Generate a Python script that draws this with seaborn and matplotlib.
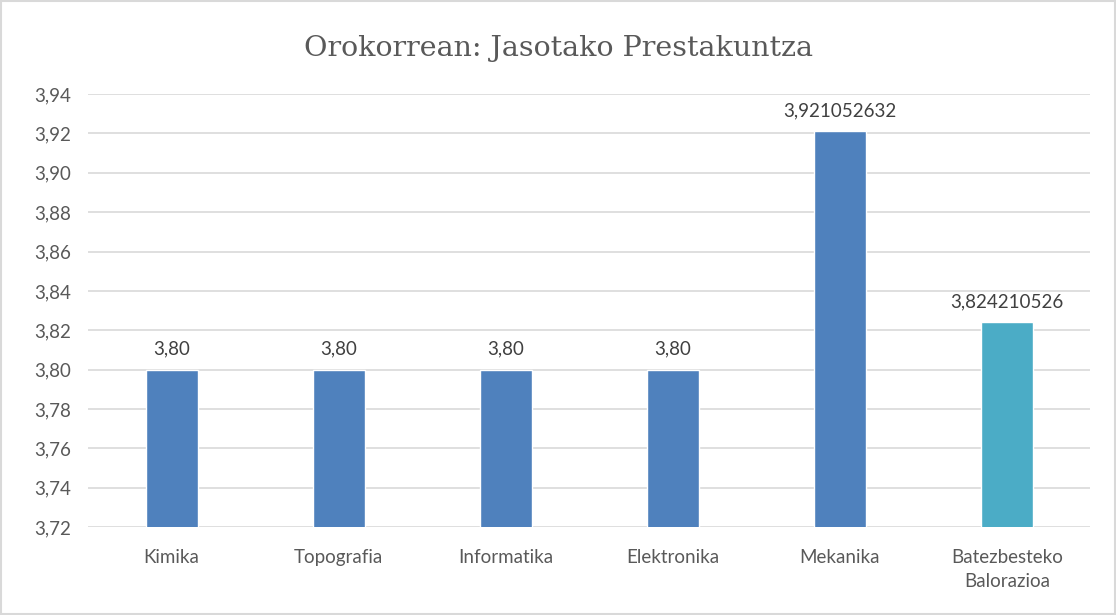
import matplotlib
matplotlib.use('Agg')
import matplotlib.pyplot as plt
import seaborn as sns
import pandas as pd

categories = ['Kimika', 'Topografia', 'Informatika', 'Elektronika', 'Mekanika',
              'Batezbesteko\nBalorazioa']
values = [3.80, 3.80, 3.80, 3.80, 3.921052632, 3.824210526]
labels = ['3,80', '3,80', '3,80', '3,80', '3,921052632', '3,824210526']
colors = ['#4F81BD'] * 5 + ['#4BACC6']
yticks = [3.72, 3.74, 3.76, 3.78, 3.80, 3.82, 3.84, 3.86, 3.88, 3.90, 3.92, 3.94]

df = pd.DataFrame({'cat': categories, 'val': values})

sns.set_style('white')
plt.rcParams['font.family'] = ['Lato', 'DejaVu Sans']

fig = plt.figure(figsize=(11.16, 6.15), dpi=100)
ax = fig.add_axes([0.079, 0.143, 0.898, 0.704])

sns.barplot(data=df, x='cat', y='val', hue='cat', palette=colors, legend=False,
            width=0.31, saturation=1, ax=ax, zorder=3)

ax.set_ylim(3.72, 3.94)
ax.set_yticks(yticks)
ax.set_yticklabels([f'{t:.2f}'.replace('.', ',') for t in yticks])
ax.grid(axis='y', color='#D9D9D9', linewidth=1.2, zorder=0)
for s in ['top', 'right', 'left', 'bottom']:
    ax.spines[s].set_visible(False)
ax.tick_params(axis='y', length=0, labelsize=13.5, colors='#595959', pad=12)
ax.tick_params(axis='x', length=0, labelsize=13.5, colors='#595959', pad=16)
for t in ax.get_xticklabels():
    t.set_linespacing(1.5)
ax.set_xlabel('')
ax.set_ylabel('')

for i, (v, lab) in enumerate(zip(values, labels)):
    ax.text(i, v + 0.006, lab, ha='center', va='bottom', fontsize=13.5, color='#404040')

fig.suptitle('Orokorrean: Jasotako Prestakuntza', y=0.943, fontsize=20.5,
             color='#595959', family='DejaVu Serif')

fig.patches.append(plt.Rectangle((0.001, 0.001), 0.998, 0.997, transform=fig.transFigure,
                                 fill=False, edgecolor='#D9D9D9', linewidth=1.5))

fig.savefig('out.png', dpi=100)
